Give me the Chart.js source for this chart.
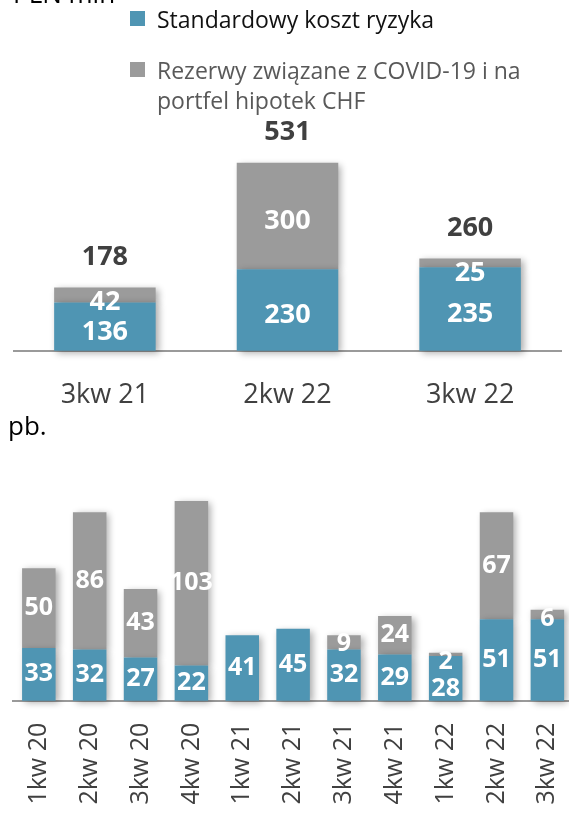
<!DOCTYPE html>
<html>
<head>
<meta charset="utf-8">
<script src="https://cdn.jsdelivr.net/npm/chart.js@4.4.1/dist/chart.umd.min.js"></script>
<style>
  html, body { margin: 0; padding: 0; background: #fff; width: 569px; height: 815px; overflow: hidden; }
  #wrap { position: relative; width: 569px; height: 815px; overflow: hidden; }
  #topChart { position: absolute; left: 0; top: 0; }
  #bottomChart { position: absolute; left: 0; top: 415px; }
  #legend { position: absolute; left: 130px; top: 0; font-family: "Open Sans", sans-serif; font-size: 23px; }
  .item { position: absolute; left: 0; }
  .box { position: absolute; left: 0; top: 7px; width: 15px; height: 15px; }
  .txt { position: absolute; left: 27px; top: 0; width: 390px; line-height: 30px; white-space: normal; }
</style>
</head>
<body>
<div id="wrap">
  <canvas id="topChart" width="569" height="415"></canvas>
  <canvas id="bottomChart" width="575" height="400"></canvas>
  <div id="legend"></div>
</div>
<script>
// Series names and colours
const seriesNames = ['Standardowy koszt ryzyka', 'Rezerwy związane z COVID-19 i na portfel hipotek CHF'];
const seriesColors = ['#4f95b3', '#9b9b9b'];
const legendTextColors = ['#111111', '#595959'];

// Quarterly cost of risk, PLN mln
const topCategories = ['3kw 21', '2kw 22', '3kw 22'];
const topStandard = [136, 230, 235];
const topCovid = [42, 300, 25];
const topTotals = [178, 531, 260];

// Cost of risk, basis points
const bottomCategories = ['1kw 20', '2kw 20', '3kw 20', '4kw 20', '1kw 21', '2kw 21', '3kw 21', '4kw 21', '1kw 22', '2kw 22', '3kw 22'];
const bottomStandard = [33, 32, 27, 22, 41, 45, 32, 29, 28, 51, 51];
const bottomCovid = [50, 86, 43, 103, null, null, 9, 24, 2, 67, 6];

const FONT = '"Open Sans", sans-serif';

// Soft drop shadow behind the bars
const barShadow = {
  id: 'barShadow',
  beforeDatasetsDraw(chart) {
    const ctx = chart.ctx;
    ctx.save();
    ctx.shadowColor = 'rgba(0,0,0,0.33)';
    ctx.shadowBlur = 7;
    ctx.shadowOffsetX = 3;
    ctx.shadowOffsetY = 2;
  },
  afterDatasetsDraw(chart) {
    chart.ctx.restore();
  }
};

// Values inside each segment, optional totals above each stack
const segmentLabels = {
  id: 'segmentLabels',
  afterDraw(chart, args, opts) {
    const ctx = chart.ctx;
    ctx.save();
    ctx.textAlign = 'center';
    ctx.textBaseline = 'middle';
    ctx.font = 'bold ' + opts.size + 'px ' + FONT;
    ctx.fillStyle = '#ffffff';
    const half = opts.size * 0.36;
    const stackTops = [];
    const lastLabelY = [];
    const datasets = chart.data.datasets;
    // walk from the top segment down so lower labels can make room
    for (let di = datasets.length - 1; di >= 0; di--) {
      const ds = datasets[di];
      const meta = chart.getDatasetMeta(di);
      meta.data.forEach((bar, i) => {
        const v = ds.data[i];
        if (v == null) return;
        const top = Math.min(bar.y, bar.base);
        const bottom = Math.max(bar.y, bar.base);
        stackTops[i] = stackTops[i] == null ? top : Math.min(stackTops[i], top);
        let y = (top + bottom) / 2;
        // keep the text of thin segments from rising above them
        y = Math.max(y, top + half);
        if (lastLabelY[i] != null) y = Math.max(y, lastLabelY[i] + opts.size * 1.1);
        lastLabelY[i] = y;
        ctx.fillText(String(v), bar.x, y + (opts.shift || 0));
      });
    }
    if (opts.totals) {
      ctx.fillStyle = '#404040';
      ctx.font = 'bold ' + opts.totalSize + 'px ' + FONT;
      const meta = chart.getDatasetMeta(0);
      opts.totals.forEach((t, i) => {
        ctx.fillText(String(t), meta.data[i].x, stackTops[i] - 30);
      });
    }
    ctx.restore();
  }
};

// Unit caption in the corner of each chart
const unitCaption = {
  id: 'unitCaption',
  afterDraw(chart, args, opts) {
    const ctx = chart.ctx;
    ctx.save();
    ctx.font = opts.size + 'px ' + FONT;
    ctx.fillStyle = '#000000';
    ctx.textAlign = 'left';
    ctx.textBaseline = 'alphabetic';
    ctx.fillText(opts.text, opts.x, opts.y);
    ctx.restore();
  }
};

function makeDatasets(standard, covid, barPct) {
  return [standard, covid].map((vals, k) => ({
    label: seriesNames[k],
    data: vals,
    backgroundColor: seriesColors[k],
    borderWidth: 0,
    barPercentage: barPct,
    categoryPercentage: 1,
    clip: false
  }));
}

// Category axis with a fixed height and no extra side padding for its labels
function categoryAxis(fontSize, padding, height, rotated) {
  return {
    stacked: true,
    grid: { display: false, drawTicks: false },
    border: { display: true, color: '#9a9a9a', width: 2 },
    ticks: {
      color: '#404040',
      font: { size: fontSize },
      padding: padding,
      minRotation: rotated ? 90 : 0,
      maxRotation: rotated ? 90 : 0,
      autoSkip: false
    },
    afterFit(scale) {
      scale.height = height;
      scale.paddingLeft = 0;
      scale.paddingRight = 0;
    }
  };
}

Chart.defaults.font.family = FONT;
Chart.defaults.animation = false;

const topChart = new Chart(document.getElementById('topChart'), {
  type: 'bar',
  data: { labels: topCategories, datasets: makeDatasets(topStandard, topCovid, 0.556) },
  options: {
    responsive: false,
    devicePixelRatio: 1,
    layout: { padding: { top: 137.9, left: 13.6, right: 7.6, bottom: 0 } },
    plugins: {
      legend: { display: false },
      tooltip: { enabled: false },
      segmentLabels: { size: 27, shift: 5, totals: topTotals, totalSize: 27 },
      unitCaption: { text: 'PLN mln', x: 13, y: 3, size: 26 }
    },
    scales: {
      x: categoryAxis(27, 28, 64.3, false),
      y: { stacked: true, display: false, min: 0, max: 600 }
    }
  },
  plugins: [barShadow, segmentLabels, unitCaption]
});

const bottomChart = new Chart(document.getElementById('bottomChart'), {
  type: 'bar',
  data: { labels: bottomCategories, datasets: makeDatasets(bottomStandard, bottomCovid, 0.659) },
  options: {
    responsive: false,
    devicePixelRatio: 1,
    layout: { padding: { top: 46.15, left: 13.4, right: 2.2, bottom: 0 } },
    plugins: {
      legend: { display: false },
      tooltip: { enabled: false },
      segmentLabels: { size: 25, shift: 0 },
      unitCaption: { text: 'pb.', x: 8, y: 20, size: 26 }
    },
    scales: {
      x: categoryAxis(25, 22, 114.3, true),
      y: { stacked: true, display: false, min: 0, max: 150 }
    }
  },
  plugins: [barShadow, segmentLabels, unitCaption]
});

// Legend built from the series of the first chart
const legendEl = document.getElementById('legend');
const legendTops = [3.8, 55.3];
topChart.data.datasets.forEach((ds, k) => {
  const item = document.createElement('div');
  item.className = 'item';
  item.style.top = legendTops[k] + 'px';
  const box = document.createElement('div');
  box.className = 'box';
  box.style.background = ds.backgroundColor;
  const txt = document.createElement('div');
  txt.className = 'txt';
  txt.style.color = legendTextColors[k];
  txt.textContent = ds.label;
  item.appendChild(box);
  item.appendChild(txt);
  legendEl.appendChild(item);
});
</script>
</body>
</html>
